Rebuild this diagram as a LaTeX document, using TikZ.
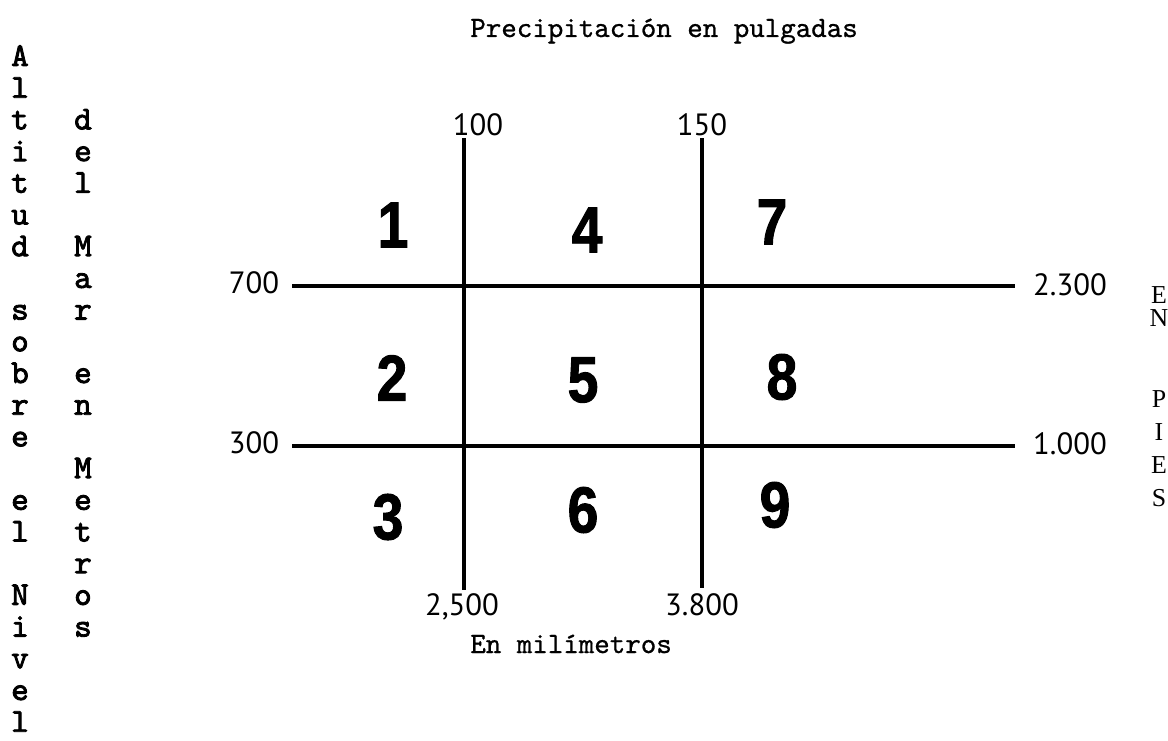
\documentclass[tikz,border=0pt]{standalone}
\usepackage{fontspec}
\newfontfamily\ttfont[FakeBold=0.8]{lmmono10-regular.otf}
\newfontfamily\colfont[FakeBold=2.5]{lmmono10-regular.otf}
\newfontfamily\numfont{PT Sans}
\newfontfamily\bigfont[FakeStretch=0.85,FakeBold=1.5]{Liberation Sans Bold}
\newfontfamily\serfont{Liberation Serif}
\begin{document}
\begin{tikzpicture}[x=0.02cm,y=-0.02cm,
  grid/.style={line width=1.9pt, line cap=butt},
  txt/.style={inner sep=0pt, anchor=base},
  ttl/.style={txt, font=\fontsize{16.8pt}{20pt}\ttfont},
  col/.style={txt, font=\fontsize{19pt}{20pt}\colfont},
  lab/.style={txt, font=\fontsize{17.5pt}{20pt}\numfont},
  big/.style={inner sep=0pt, anchor=center, font=\fontsize{37pt}{40pt}\bigfont},
  ser/.style={txt, font=\fontsize{14.7pt}{16pt}\serfont}]
\useasboundingbox (0,0) rectangle (1168,740);

% title and axis caption
\node[ttl, anchor=base west] (title) at (470,37) {Precipitación en pulgadas};
\node[ttl, anchor=base west] (mm) at (470,653) {En milímetros};

% grid lines
\coordinate (v1t) at (464,138); \coordinate (v1b) at (464,590);
\coordinate (v2t) at (702,138); \coordinate (v2b) at (702,588);
\coordinate (h1l) at (292,286); \coordinate (h1r) at (1015,286);
\coordinate (h2l) at (292,446); \coordinate (h2r) at (1015,446);
\draw[grid] (v1t) -- (v1b);
\draw[grid] (v2t) -- (v2b);
\draw[grid] (h1l) -- (h1r);
\draw[grid] (h2l) -- (h2r);

% scale labels
\node[lab] (t100) at (478,135) {100};
\node[lab] (t150) at (702,135) {150};
\node[lab] (b2500) at (462,615) {2,500};
\node[lab] (b3800) at (702,615) {3.800};
\node[lab] (l700) at (254,293) {700};
\node[lab] (l300) at (254,453) {300};
\node[lab] (r2300) at (1070,295) {2.300};
\node[lab] (r1000) at (1070,454) {1.000};

% zone numbers
\node[big] (z1) at (393,225) {1};
\node[big] (z4) at (587,230) {4};
\node[big] (z7) at (772,222) {7};
\node[big] (z2) at (392,378) {2};
\node[big] (z5) at (583,380) {5};
\node[big] (z8) at (782,377) {8};
\node[big] (z3) at (388,517) {3};
\node[big] (z6) at (583,510) {6};
\node[big] (z9) at (775,505) {9};

% left vertical captions
\foreach \k/\ch in {0/A,1/l,2/t,3/i,4/t,5/u,6/d,8/s,9/o,10/b,11/r,12/e,14/e,15/l,17/N,18/i,19/v,20/e,21/l}
  \node[col] (L\k) at (20,66+31.7*\k) {\ch};
\foreach \k/\ch in {2/d,3/e,4/l,6/M,7/a,8/r,10/e,11/n,13/M,14/e,15/t,16/r,17/o,18/s}
  \node[col] (R\k) at (83,66+31.7*\k) {\ch};

% right vertical caption
\node[ser] (pE1) at (1159,303) {E};
\node[ser] (pN) at (1159,326) {N};
\node[ser] (pP) at (1159,407) {P};
\node[ser] (pI) at (1159,440) {I};
\node[ser] (pE2) at (1159,473) {E};
\node[ser] (pS) at (1159,506) {S};
\end{tikzpicture}
\end{document}
